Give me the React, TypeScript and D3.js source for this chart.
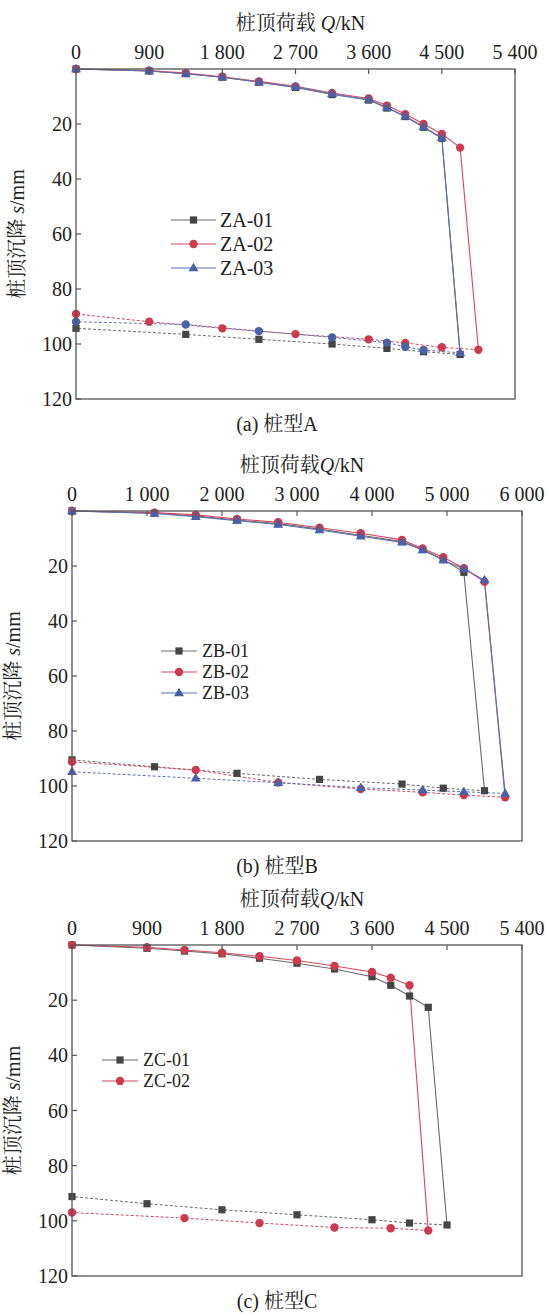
import React from "react";
import * as d3 from "d3";

// ---------- Data ----------
// Panel A
const loadA = [0, 900, 1350, 1800, 2250, 2700, 3150, 3600, 3825, 4050, 4275, 4500];
const za01LoadQ = [...loadA, 4725];
const za01LoadS = [0, 0.7, 1.7, 3.0, 4.8, 6.7, 9.3, 11.3, 14.2, 17.3, 21.2, 25.2, 103.8];
const za01UnloadQ = [4725, 4275, 3825, 3150, 2250, 1350, 0];
const za01UnloadS = [103.8, 102.8, 101.6, 100.0, 98.3, 96.5, 94.3];
const za02LoadQ = [...loadA, 4725, 4950];
const za02LoadS = [0, 0.6, 1.5, 2.8, 4.5, 6.3, 8.7, 10.7, 13.3, 16.4, 20.0, 23.6, 28.6, 102.1];
const za02UnloadQ = [4950, 4500, 4050, 3600, 2700, 1800, 900, 0];
const za02UnloadS = [102.1, 101.2, 99.6, 98.3, 96.4, 94.3, 91.9, 89.1];
const za03LoadQ = [...loadA, 4725];
const za03LoadS = [0, 0.7, 1.7, 3.0, 4.8, 6.5, 9.0, 11.1, 14.0, 17.2, 21.0, 25.0, 103.2];
const za03UnloadQ = [4725, 4275, 4050, 3825, 3150, 2250, 1350, 0];
const za03UnloadS = [103.2, 102.2, 101.0, 99.5, 97.6, 95.3, 92.9, 91.9];
const ticksA = [0, 900, 1800, 2700, 3600, 4500, 5400];

// Panel B
const loadB = [0, 1100, 1650, 2200, 2750, 3300, 3850, 4400, 4675, 4950, 5225, 5500];
const zb01LoadQ = [0, 1100, 1650, 2200, 2750, 3300, 3850, 4400, 4675, 4950, 5225, 5500];
const zb01LoadS = [0, 0.8, 1.8, 3.3, 4.6, 6.6, 8.8, 11.1, 14.0, 17.6, 22.3, 101.7];
const zb01UnloadQ = [5500, 4950, 4400, 3300, 2200, 1100, 0];
const zb01UnloadS = [101.7, 100.8, 99.3, 97.6, 95.4, 93.0, 90.5];
const zb02LoadQ = [...loadB, 5775];
const zb02LoadS = [0, 0.6, 1.4, 2.9, 4.1, 6.1, 8.1, 10.5, 13.6, 16.8, 20.8, 25.7, 104.1];
const zb02UnloadQ = [5775, 5225, 4675, 3850, 2750, 1650, 0];
const zb02UnloadS = [104.1, 103.3, 102.3, 101.1, 98.7, 94.2, 91.2];
const zb03LoadQ = [...loadB, 5775];
const zb03LoadS = [0, 0.9, 2.1, 3.5, 4.9, 6.9, 9.2, 11.4, 14.2, 17.9, 21.1, 25.1, 102.7];
const zb03UnloadQ = [5775, 5225, 4675, 3850, 2750, 1650, 0];
const zb03UnloadS = [102.7, 102.1, 101.5, 100.6, 98.8, 97.2, 94.8];
const ticksB = [0, 1000, 2000, 3000, 4000, 5000, 6000];

// Panel C
const zc01LoadQ = [0, 900, 1350, 1800, 2250, 2700, 3150, 3600, 3825, 4050, 4275, 4500];
const zc01LoadS = [0, 1.2, 2.2, 3.2, 4.8, 6.6, 8.7, 11.5, 14.6, 18.5, 22.6, 101.5];
const zc01UnloadQ = [4500, 4050, 3600, 2700, 1800, 900, 0];
const zc01UnloadS = [101.5, 100.8, 99.6, 97.8, 96.0, 93.8, 91.2];
const zc02LoadQ = [0, 900, 1350, 1800, 2250, 2700, 3150, 3600, 3825, 4050, 4275];
const zc02LoadS = [0, 0.8, 1.8, 2.8, 4.1, 5.6, 7.6, 9.8, 11.9, 14.6, 103.5];
const zc02UnloadQ = [4275, 3825, 3150, 2250, 1350, 0];
const zc02UnloadS = [103.5, 102.7, 102.4, 100.8, 99.0, 97.0];
const ticksC = [0, 900, 1800, 2700, 3600, 4500, 5400];

const yTicks = [20, 40, 60, 80, 100, 120];

// ---------- Styles ----------
const FONT = "'Liberation Serif', 'Times New Roman', 'Noto Serif CJK SC', 'Noto Sans CJK SC', serif";
const COLORS: Record<string, { line: string; fill: string }> = {
  black: { line: "#6a6a6a", fill: "#454545" },
  red: { line: "#d4485c", fill: "#cc3a4e" },
  blue: { line: "#5a71b6", fill: "#4662a8" },
};

type Shape = "square" | "circle" | "triangle";
type Series = {
  name: string;
  color: string;
  shape: Shape;
  unloadShape: Shape;
  loadQ: number[];
  loadS: number[];
  unloadQ: number[];
  unloadS: number[];
};

function Marker({ shape, x, y, fill }: { shape: Shape; x: number; y: number; fill: string }) {
  if (shape === "square") return <rect x={x - 3.6} y={y - 3.6} width={7.2} height={7.2} fill={fill} />;
  if (shape === "circle") return <circle cx={x} cy={y} r={4.2} fill={fill} />;
  const h = 8.5, w = 10;
  return <path d={`M${x},${y - h * 0.62}L${x + w / 2},${y + h * 0.38}L${x - w / 2},${y + h * 0.38}Z`} fill={fill} />;
}

const fmt = (v: number) => d3.format(",")(v).replace(/,/g, " ");

type PanelProps = {
  left: number; right: number; top: number; bottom: number;
  xMax: number; xTicks: number[];
  series: Series[];
  titleSpace: boolean;
  caption: string;
  legend: { x1: number; x2: number; tx: number; y0: number; dy: number; fs: number };
};

function Panel(p: PanelProps) {
  const x = d3.scaleLinear().domain([0, p.xMax]).range([p.left, p.right]);
  const y = d3.scaleLinear().domain([0, 120]).range([p.top, p.bottom]);
  const line = d3.line<[number, number]>().x((d) => x(d[0])).y((d) => y(d[1]));
  const axisColor = "#555";
  const cx = (p.left + p.right) / 2;
  return (
    <g fontFamily={FONT} fill="#222">
      {p.series.map((s) => {
        const c = COLORS[s.color];
        const lp = s.loadQ.map((q, i) => [q, s.loadS[i]] as [number, number]);
        const up = s.unloadQ.map((q, i) => [q, s.unloadS[i]] as [number, number]);
        return (
          <g key={s.name}>
            <path d={line(up) || ""} fill="none" stroke={c.line} strokeWidth={1} strokeDasharray="3,2" />
            <path d={line(lp) || ""} fill="none" stroke={c.line} strokeWidth={1.1} />
          </g>
        );
      })}
      {p.series.map((s) => {
        const c = COLORS[s.color];
        return (
          <g key={s.name + "m"}>
            {s.unloadQ.slice(1).map((q, i) => (
              <Marker key={"u" + i} shape={s.unloadShape} x={x(q)} y={y(s.unloadS[i + 1])} fill={c.fill} />
            ))}
            {s.loadQ.map((q, i) => (
              <Marker key={"l" + i} shape={s.shape} x={x(q)} y={y(s.loadS[i])} fill={c.fill} />
            ))}
          </g>
        );
      })}
      <rect x={p.left} y={p.top} width={p.right - p.left} height={p.bottom - p.top} fill="none" stroke={axisColor} strokeWidth={1.3} />
      {p.xTicks.map((t) => (
        <g key={"xt" + t}>
          <line x1={x(t)} x2={x(t)} y1={p.top} y2={p.top + 5} stroke={axisColor} strokeWidth={1.2} />
          <text x={x(t)} y={p.top - 10} fontSize={20} textAnchor="middle">{fmt(t)}</text>
        </g>
      ))}
      {yTicks.map((t) => (
        <g key={"yt" + t}>
          <line x1={p.left} x2={p.left + 5} y1={y(t)} y2={y(t)} stroke={axisColor} strokeWidth={1.2} />
          <text x={p.left - 4} y={y(t) + 7} fontSize={20} textAnchor="end">{t}</text>
        </g>
      ))}
      <text x={cx + 5} y={p.top - 39} fontSize={20} textAnchor="middle">
        {p.titleSpace ? "桩顶荷载 " : "桩顶荷载"}
        <tspan fontStyle="italic">Q</tspan>/kN
      </text>
      <text
        transform={`translate(${p.left - 52},${(p.top + p.bottom) / 2}) rotate(-90)`}
        fontSize={20}
        textAnchor="middle"
      >
        桩顶沉降 <tspan fontStyle="italic">s</tspan>/mm
      </text>
      <text x={277} y={p.bottom + 32} fontSize={20} textAnchor="middle">{p.caption}</text>
      {p.series.map((s, i) => {
        const c = COLORS[s.color];
        const ly = p.legend.y0 + i * p.legend.dy;
        return (
          <g key={"lg" + s.name}>
            <line x1={p.legend.x1} x2={p.legend.x2} y1={ly} y2={ly} stroke={c.line} strokeWidth={1.2} />
            <Marker shape={s.shape} x={(p.legend.x1 + p.legend.x2) / 2} y={ly} fill={c.fill} />
            <text x={p.legend.tx} y={ly + p.legend.fs * 0.35} fontSize={p.legend.fs}>{s.name}</text>
          </g>
        );
      })}
    </g>
  );
}

const seriesA: Series[] = [
  { name: "ZA-01", color: "black", shape: "square", unloadShape: "square", loadQ: za01LoadQ, loadS: za01LoadS, unloadQ: za01UnloadQ, unloadS: za01UnloadS },
  { name: "ZA-02", color: "red", shape: "circle", unloadShape: "circle", loadQ: za02LoadQ, loadS: za02LoadS, unloadQ: za02UnloadQ, unloadS: za02UnloadS },
  { name: "ZA-03", color: "blue", shape: "triangle", unloadShape: "circle", loadQ: za03LoadQ, loadS: za03LoadS, unloadQ: za03UnloadQ, unloadS: za03UnloadS },
];
const seriesB: Series[] = [
  { name: "ZB-01", color: "black", shape: "square", unloadShape: "square", loadQ: zb01LoadQ, loadS: zb01LoadS, unloadQ: zb01UnloadQ, unloadS: zb01UnloadS },
  { name: "ZB-02", color: "red", shape: "circle", unloadShape: "circle", loadQ: zb02LoadQ, loadS: zb02LoadS, unloadQ: zb02UnloadQ, unloadS: zb02UnloadS },
  { name: "ZB-03", color: "blue", shape: "triangle", unloadShape: "triangle", loadQ: zb03LoadQ, loadS: zb03LoadS, unloadQ: zb03UnloadQ, unloadS: zb03UnloadS },
];
const seriesC: Series[] = [
  { name: "ZC-01", color: "black", shape: "square", unloadShape: "square", loadQ: zc01LoadQ, loadS: zc01LoadS, unloadQ: zc01UnloadQ, unloadS: zc01UnloadS },
  { name: "ZC-02", color: "red", shape: "circle", unloadShape: "circle", loadQ: zc02LoadQ, loadS: zc02LoadS, unloadQ: zc02UnloadQ, unloadS: zc02UnloadS },
];

export default function App() {
  return (
    <div style={{ position: "absolute", left: 0, top: 0 }}>
      <svg width={549} height={1316} style={{ display: "block", background: "#fff" }}>
        <Panel left={76} right={515} top={69} bottom={399} xMax={5400} xTicks={ticksA} series={seriesA}
          titleSpace={true} caption="(a) 桩型A"
          legend={{ x1: 171, x2: 216, tx: 220, y0: 220, dy: 24, fs: 20 }} />
        <Panel left={72} right={522} top={511} bottom={841} xMax={6000} xTicks={ticksB} series={seriesB}
          titleSpace={false} caption="(b) 桩型B"
          legend={{ x1: 161, x2: 197, tx: 202, y0: 651, dy: 21, fs: 18 }} />
        <Panel left={72} right={522} top={945} bottom={1276} xMax={5400} xTicks={ticksC} series={seriesC}
          titleSpace={false} caption="(c) 桩型C"
          legend={{ x1: 102, x2: 138, tx: 143, y0: 1060, dy: 21, fs: 18 }} />
      </svg>
    </div>
  );
}
